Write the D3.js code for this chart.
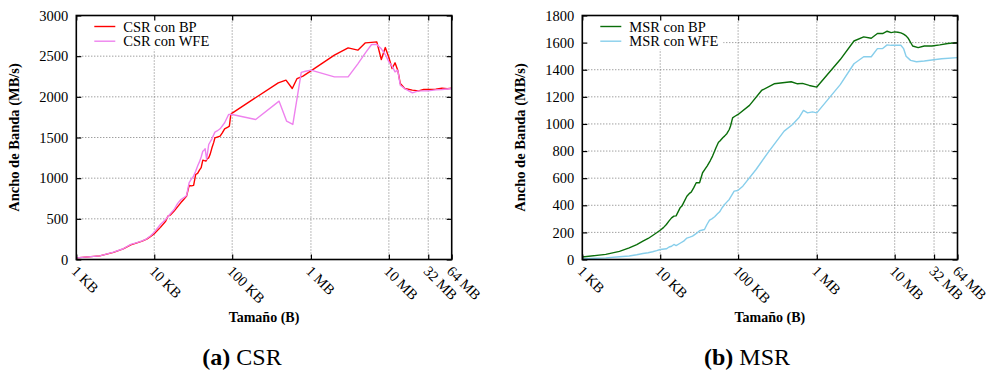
<!DOCTYPE html>
<html><head><meta charset="utf-8">
<script src="https://cdn.jsdelivr.net/npm/d3@7"></script>
<style>
body{margin:0;background:#fff}
svg text{font-family:"Liberation Serif","DejaVu Serif","Times New Roman",serif !important;fill:#000}
</style></head>
<body><svg id="c" width="989" height="372"></svg>
<script>
// sizes in KB
const xTickValues = [1, 10, 100, 1024, 10240, 32768, 65536];
const xTickLabels = ["1 KB", "10 KB", "100 KB", "1 MB", "10 MB", "32 MB", "64 MB"];
const csrYTicks = [0, 500, 1000, 1500, 2000, 2500, 3000];
const msrYTicks = [0, 200, 400, 600, 800, 1000, 1200, 1400, 1600, 1800];

const csrBpSizes = [1,2,3,4,5,6,7,8,9,10,12,14,15,16,18,20,22,24,26,28,30,32,34,36,38,40,42,44,46,48,50,52,55,58,60,64,70,75,80,88,92,96,100,390,490,590,680,810,1024,2048,3072,4096,5120,6144,7168,8192,9216,10240,11264,12288,13312,14336,16384,20480,24576,28672,32768,40960,49152,57344,65536];
const csrBpValues = [20,45,88,130,180,205,225,250,285,318,395,470,533,545,595,650,700,740,779,910,905,912,1045,1060,1100,1130,1222,1215,1210,1240,1250,1290,1373,1440,1496,1505,1517,1560,1607,1628,1640,1783,1800,2172,2205,2102,2225,2254,2320,2512,2602,2574,2664,2670,2676,2459,2606,2483,2348,2418,2328,2164,2102,2082,2073,2090,2090,2095,2106,2100,2106];

const csrWfeSizes = [1,2,3,4,5,6,7,8,9,10,12,14,16,18,20,22,24,26,28,30,32,34,36,38,40,42,44,45,47,50,55,60,64,70,80,90,100,200,400,500,600,770,870,1024,2048,3072,4096,5120,6144,7168,8192,9216,10240,11264,12288,13312,14336,16384,20480,24576,28672,32768,40960,49152,65536];
const csrWfeValues = [20,45,90,132,185,208,228,255,292,336,430,492,560,615,690,738,760,787,943,990,1025,1086,1150,1200,1260,1332,1350,1361,1230,1414,1484,1566,1580,1607,1681,1783,1783,1722,1947,1701,1660,2300,2315,2328,2246,2246,2406,2541,2643,2643,2590,2520,2430,2377,2307,2328,2143,2102,2049,2073,2073,2073,2085,2090,2102];

const msrBpSizes = [1,2,3,4,5,6,7,8,9,10,11,12,13,14,15,16,18,19,20,22,24,25,27,29,32,35,38,40,44,47,50,52,56,58,64,67,72,77,80,85,90,100,140,200,290,480,580,670,820,1024,2048,3072,4096,5120,6144,7168,8192,9216,10240,11264,12288,13312,14336,15360,17408,20480,24576,30720,38912,49152,65536];
const msrBpValues = [18,38,60,86,110,135,155,177,197,216,235,258,285,307,320,322,381,394,420,467,490,497,530,566,566,640,670,689,730,763,800,824,865,873,900,910,930,959,985,1045,1055,1070,1137,1247,1296,1311,1296,1299,1284,1272,1475,1612,1642,1632,1667,1667,1684,1674,1679,1676,1672,1662,1650,1630,1575,1563,1575,1575,1583,1593,1600];

const msrWfeSizes = [1,2,3,4,5,6,7,8,9,10,12,13,14,15,16,18,20,22,24,26,28,30,32,34,37,40,43,46,50,54,58,62,67,72,77,83,89,99,115,170,250,390,500,610,690,780,900,1024,2048,3072,4096,5120,6144,7168,8192,9216,10240,12288,13312,14336,16384,19456,24576,30720,40960,65536];
const msrWfeValues = [5,12,20,26,35,44,50,57,65,74,79,92,98,111,103,120,135,158,165,172,185,197,212,216,221,260,290,300,315,335,352,380,406,425,443,475,504,509,541,664,800,947,996,1050,1100,1082,1089,1082,1290,1444,1496,1496,1556,1556,1583,1580,1580,1580,1556,1500,1469,1459,1464,1472,1481,1489];

const svg = d3.select("#c");
const TOP = 15.5, BOTTOM = 259.5;
const FS = 14.5;
const FONT = '"Liberation Serif","DejaVu Serif",serif';

function panel(o) {
  const x = d3.scaleLog().domain([1, 65536]).range([o.left, o.right]);
  const y = d3.scaleLinear().domain([0, o.yMax]).range([BOTTOM, TOP]);
  const g = svg.append("g").attr("font-family", FONT);

  // grid
  const grid = g.append("g").attr("stroke", "#777").attr("stroke-width", 1).attr("stroke-dasharray", "1,2");
  grid.selectAll("line.h").data(o.yTicks.filter(d => d > 0 && d < o.yMax)).join("line")
    .attr("x1", o.left).attr("x2", o.right).attr("y1", d => y(d)).attr("y2", d => y(d));
  grid.selectAll("line.v").data(xTickValues.slice(1, -1)).join("line")
    .attr("x1", d => x(d)).attr("x2", d => x(d)).attr("y1", TOP).attr("y2", BOTTOM);

  // legend box (opaque)
  g.append("rect").attr("x", o.left + 1).attr("y", TOP + 1)
    .attr("width", o.legendW).attr("height", 33).attr("fill", "#fff");

  // lines
  const line = d3.line().x(d => x(d[0])).y(d => y(d[1]));
  o.series.forEach(s => {
    g.append("path").datum(d3.zip(s.sizes, s.values))
      .attr("fill", "none").attr("stroke", s.color).attr("stroke-width", 1.4)
      .attr("stroke-linejoin", "round").attr("d", line);
  });

  // axes (inward ticks, mirrored)
  const yl = d3.axisLeft(y).tickValues(o.yTicks).tickSize(-5).tickPadding(8).tickFormat(d3.format("d"));
  const yr = d3.axisRight(y).tickValues(o.yTicks).tickSize(-5).tickFormat("");
  const xb = d3.axisBottom(x).tickValues(xTickValues).tickSize(-5).tickFormat("");
  const xt = d3.axisTop(x).tickValues(xTickValues).tickSize(-5).tickFormat("");
  const ax = [
    g.append("g").attr("transform", `translate(${o.left},0)`).call(yl),
    g.append("g").attr("transform", `translate(${o.right},0)`).call(yr),
    g.append("g").attr("transform", `translate(0,${BOTTOM})`).call(xb),
    g.append("g").attr("transform", `translate(0,${TOP})`).call(xt)
  ];
  ax.forEach(a => {
    a.attr("font-family", FONT).attr("font-size", FS);
    a.select(".domain").remove();
    a.selectAll(".tick line").attr("stroke", "#000").attr("stroke-width", 1.2);
  });
  // frame
  g.append("rect").attr("x", o.left).attr("y", TOP).attr("width", o.right - o.left).attr("height", BOTTOM - TOP)
    .attr("fill", "none").attr("stroke", "#000").attr("stroke-width", 1.6);

  // rotated x tick labels
  g.selectAll("text.xl").data(xTickValues).join("text")
    .attr("transform", d => `translate(${x(d) - 2},${BOTTOM + 9}) rotate(45)`)
    .attr("dy", "0.35em").attr("font-size", FS)
    .text((d, i) => xTickLabels[i]);

  // legend
  o.series.forEach((s, i) => {
    const ly = 26.5 + i * 14.7;
    g.append("line").attr("x1", o.left + 18).attr("x2", o.left + 39).attr("y1", ly).attr("y2", ly)
      .attr("stroke", s.color).attr("stroke-width", 1.4);
    g.append("text").attr("x", o.left + 47).attr("y", ly).attr("dy", "0.35em")
      .attr("font-size", FS).text(s.name);
  });

  // axis titles
  g.append("text").attr("x", (o.left + o.right) / 2).attr("y", 322).attr("text-anchor", "middle")
    .attr("font-size", 14).attr("font-weight", "bold").text("Tamaño (B)");
  g.append("text").attr("transform", `translate(${o.left - 57},${(TOP + BOTTOM) / 2}) rotate(-90)`)
    .attr("text-anchor", "middle").attr("font-size", 14.5).attr("font-weight", "bold")
    .text("Ancho de Banda (MB/s)");

  // caption
  const cap = g.append("text").attr("x", o.capX).attr("y", 365).attr("text-anchor", "middle").attr("font-size", 24);
  cap.append("tspan").attr("font-weight", "bold").text(o.capA);
  cap.append("tspan").text(" " + o.capB);
}

panel({
  left: 76.3, right: 451.7, yMax: 3000, yTicks: csrYTicks, legendW: 137, capX: 242, capA: "(a)", capB: "CSR",
  series: [
    {name: "CSR con BP", color: "#ff0000", sizes: csrBpSizes, values: csrBpValues},
    {name: "CSR con WFE", color: "#ee82ee", sizes: csrWfeSizes, values: csrWfeValues}
  ]
});
panel({
  left: 582.3, right: 957.5, yMax: 1800, yTicks: msrYTicks, legendW: 140, capX: 747, capA: "(b)", capB: "MSR",
  series: [
    {name: "MSR con BP", color: "#0a6e0a", sizes: msrBpSizes, values: msrBpValues},
    {name: "MSR con WFE", color: "#87ceeb", sizes: msrWfeSizes, values: msrWfeValues}
  ]
});
</script></body></html>
